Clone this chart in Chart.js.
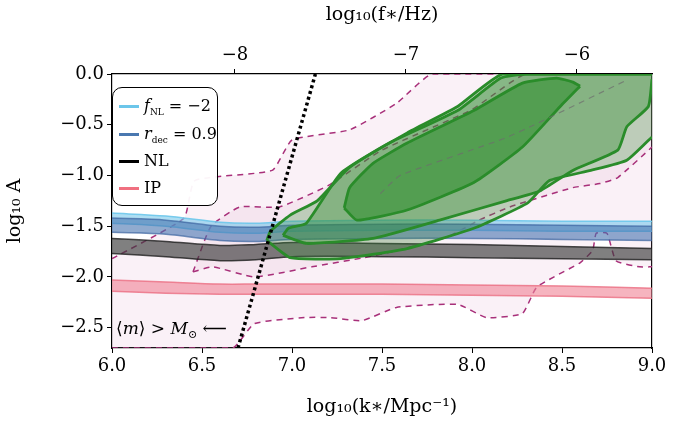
<!DOCTYPE html>
<html>
<head>
<meta charset="utf-8">
<script src="https://cdn.jsdelivr.net/npm/chart.js@4"></script>
<style>
  body { margin: 0; background: #fff; }
  #wrap { position: relative; width: 674px; height: 422px; }
  canvas { position: absolute; left: 0; top: 0; }
  .legend { position: absolute; left: 112px; top: 87px; width: 104px; height: 117px;
    border: 1.6px solid #000; border-radius: 10px; background: rgba(255,255,255,0.95);
    font-family: "DejaVu Serif", "Liberation Serif", serif; font-size: 16px; }
  .legend div { position: absolute; left: 6px; height: 20px; line-height: 20px; }
  .legend span.sw { display: inline-block; width: 20px; height: 3px; vertical-align: middle; margin-right: 5px; }
  .note { position: absolute; left: 116px; top: 318px; font-family: "DejaVu Serif", serif; font-size: 17px; }
</style>
</head>
<body>
<div id="wrap">
<canvas id="c" width="674" height="422"></canvas>
<div class="legend">
  <div style="top:8px"><span class="sw" style="background:#6cc6ea"></span><i>f</i><sub style="font-size:9px">NL</sub> = −2</div>
  <div style="top:36px"><span class="sw" style="background:#4a78b0"></span><i>r</i><sub style="font-size:9px">dec</sub> = 0.9</div>
  <div style="top:63px"><span class="sw" style="background:#000"></span>NL</div>
  <div style="top:90px"><span class="sw" style="background:#f07080"></span>IP</div>
</div>
<div class="note">⟨<i>m</i>⟩ &gt; <i>M</i><sub style="font-size:11px">⊙</sub> ⟵</div>
</div>
<script>
// axis ticks
const xTicks = [6.0, 6.5, 7.0, 7.5, 8.0, 8.5, 9.0];
const yTicks = [0.0, -0.5, -1.0, -1.5, -2.0, -2.5];
const fTicks = [-8, -7, -6];

// PBH-like shaded regions (dashed purple outlines)
const pinkOuterUp = [[6.0,-1.82],[6.4,-1.42],[6.46,-1.05],[6.89,-0.95],[7.0,-0.65],[7.32,-0.55],[7.58,-0.29],[7.78,0.0],[9.0,0.0]];
const pinkOuterLo = [[6.0,-2.7],[6.67,-2.7],[6.79,-2.46],[7.07,-2.40],[7.21,-2.40],[7.39,-2.43],[7.58,-2.30],[7.92,-2.27],[8.08,-2.40],[8.28,-2.36],[8.36,-2.10],[8.6,-1.86],[8.67,-1.74],[8.69,-1.57],[8.75,-1.57],[8.8,-1.84],[8.93,-1.9],[9.0,-1.9]];
const pinkInnerUp = [[6.45,-1.95],[6.55,-1.5],[6.71,-1.31],[6.93,-1.31],[7.2,-1.1],[7.5,-0.75],[8.0,-0.35],[8.3,0.0],[9.0,0.0]];
const pinkInnerLo = [[6.45,-1.95],[6.56,-1.9],[6.79,-2.0],[7.11,-1.9],[7.4,-1.81],[7.58,-1.74],[7.86,-1.61],[8.04,-1.44],[8.21,-1.31],[8.56,-1.12],[8.71,-1.08],[8.81,-1.02],[9.0,-0.72]];

// model bands: lower / upper edges at bandX
const bandX = [6.0, 6.3, 6.6, 6.8, 7.0, 7.5, 8.0, 8.5, 9.0];
const fnlLo = [-1.47,-1.50,-1.56,-1.57,-1.55,-1.54,-1.54,-1.55,-1.55];
const fnlUp = [-1.37,-1.40,-1.46,-1.47,-1.45,-1.44,-1.44,-1.45,-1.45];
const rdecLo = [-1.56,-1.58,-1.64,-1.65,-1.63,-1.62,-1.62,-1.63,-1.64];
const rdecUp = [-1.42,-1.44,-1.50,-1.51,-1.49,-1.48,-1.48,-1.49,-1.50];
const nlLo = [-1.77,-1.80,-1.84,-1.83,-1.80,-1.80,-1.81,-1.82,-1.83];
const nlUp = [-1.62,-1.65,-1.69,-1.68,-1.66,-1.67,-1.68,-1.70,-1.72];
const ipLo = [-2.14,-2.16,-2.17,-2.17,-2.17,-2.17,-2.18,-2.19,-2.21];
const ipUp = [-2.03,-2.05,-2.07,-2.07,-2.07,-2.07,-2.08,-2.09,-2.11];

// posterior contours (green)
const c95Up = [[6.86,-1.64],[6.88,-1.55],[6.99,-1.39],[7.14,-1.25],[7.32,-0.92],[7.64,-0.58],[7.92,-0.32],[8.17,0.0],[9.0,0.0]];
const c95Lo = [[6.86,-1.64],[6.99,-1.81],[7.27,-1.82],[7.64,-1.72],[8.01,-1.52],[8.31,-1.27],[8.43,-1.05],[8.66,-0.95],[8.86,-0.85],[9.0,-0.62]];
const c68Up = [[6.95,-1.59],[6.98,-1.52],[7.08,-1.47],[7.27,-0.98],[7.54,-0.68],[7.92,-0.36],[8.16,-0.04],[8.3,0.0],[9.0,0.0]];
const c68Lo = [[6.95,-1.59],[7.08,-1.67],[7.45,-1.62],[7.82,-1.44],[8.19,-1.25],[8.38,-1.15],[8.56,-0.95],[8.81,-0.75],[8.86,-0.52],[8.98,-0.32],[9.0,-0.05]];
const c40Up = [[7.29,-1.32],[7.32,-1.12],[7.45,-0.88],[7.64,-0.68],[8.01,-0.36],[8.28,-0.09],[8.47,-0.04],[8.56,-0.08],[8.6,-0.12]];
const c40Lo = [[7.29,-1.32],[7.36,-1.44],[7.64,-1.34],[8.01,-1.07],[8.28,-0.72],[8.49,-0.32],[8.6,-0.12]];
const medianLine = [[7.49,-1.18],[7.6,-1.0],[8.2,-0.62],[8.86,-0.06]];

// mass bound line
const massLine = [[6.7,-2.7],[7.13,0.0]];

const pts = a => a.map(p => ({x: p[0], y: p[1]}));
const bandPts = ys => bandX.map((x, i) => ({x: x, y: ys[i]}));

const datasets = [];
function add(data, opts) {
  datasets.push(Object.assign({data: data, pointRadius: 0, borderWidth: 0, fill: false, tension: 0.15}, opts));
  return datasets.length - 1;
}

// pink regions
let i = add(pts(pinkOuterLo), {borderColor: '#a8307a', borderWidth: 1.5, borderDash: [6, 5], order: 20});
add(pts(pinkOuterUp), {borderColor: '#a8307a', borderWidth: 1.5, borderDash: [6, 5], fill: i, backgroundColor: 'rgba(215,150,190,0.13)', order: 20});
i = add(pts(pinkInnerLo), {borderColor: '#a8307a', borderWidth: 1.5, borderDash: [6, 5], order: 19});
add(pts(pinkInnerUp), {borderColor: '#a8307a', borderWidth: 1.5, borderDash: [6, 5], fill: i, backgroundColor: 'rgba(215,150,190,0.12)', order: 19});

// bands
function band(lo, up, edge, face, ord) {
  const j = add(bandPts(lo), {borderColor: edge, borderWidth: 1.5, order: ord, tension: 0.3});
  add(bandPts(up), {borderColor: edge, borderWidth: 1.5, fill: j, backgroundColor: face, order: ord, tension: 0.3});
}
band(ipLo, ipUp, 'rgba(235,110,130,0.8)', 'rgba(240,130,148,0.6)', 15);
band(nlLo, nlUp, 'rgba(30,30,30,0.8)', 'rgba(60,60,60,0.65)', 14);
band(fnlLo, fnlUp, 'rgba(110,200,235,0.9)', 'rgba(120,200,235,0.6)', 13);
band(rdecLo, rdecUp, 'rgba(60,100,160,0.7)', 'rgba(70,115,175,0.6)', 12);

// green contours
const g = '#2a8c2a';
i = add(pts(c95Lo), {borderColor: g, borderWidth: 2.8, order: 8});
add(pts(c95Up), {borderColor: g, borderWidth: 2.8, fill: i, backgroundColor: 'rgba(60,145,60,0.3)', order: 8});
i = add(pts(c68Lo), {borderColor: g, borderWidth: 2.8, order: 7});
add(pts(c68Up), {borderColor: g, borderWidth: 2.8, fill: i, backgroundColor: 'rgba(50,140,50,0.4)', order: 7});
i = add(pts(c40Lo), {borderColor: g, borderWidth: 2.8, order: 6});
add(pts(c40Up), {borderColor: g, borderWidth: 2.8, fill: i, backgroundColor: 'rgba(40,140,40,0.55)', order: 6});
add(pts(medianLine), {borderColor: 'rgba(110,110,110,0.7)', borderWidth: 1.2, borderDash: [6, 5], order: 5});

// dotted line
add(pts(massLine), {borderColor: '#000', borderWidth: 3.5, borderDash: [3, 3], tension: 0, order: 1});

const serif = '"DejaVu Serif", "Liberation Serif", serif';
const fmt = (v, d) => (v < 0 ? '\u2212' : '') + Math.abs(v).toFixed(d);
const setTicks = arr => axis => { axis.ticks = arr.map(v => ({value: v})); };

new Chart(document.getElementById('c'), {
  type: 'line',
  data: {datasets: datasets},
  options: {
    responsive: false,
    animation: false,
    parsing: false,
    plugins: {legend: {display: false}, tooltip: {enabled: false}},
    layout: {padding: {right: 22, left: 0, top: 0, bottom: 0}},
    scales: {
      x: {
        type: 'linear', position: 'bottom', min: 6.0, max: 9.0,
        afterBuildTicks: setTicks(xTicks),
        afterFit: s => { s.height = 74; },
        ticks: {font: {family: serif, size: 18}, color: '#000', callback: v => fmt(v, 1), maxRotation: 0},
        grid: {drawOnChartArea: false, color: '#000', tickLength: 5},
        border: {color: '#000', width: 1.2},
        title: {display: true, text: 'log\u2081\u2080(k\u2217/Mpc\u207B\u00B9)', font: {family: serif, size: 19}, color: '#000', padding: {top: 0}}
      },
      xTop: {
        type: 'linear', position: 'top', min: -8.719, max: -5.561,
        afterBuildTicks: setTicks(fTicks),
        afterFit: s => { s.height = 74; },
        ticks: {font: {family: serif, size: 18}, color: '#000', callback: v => fmt(v, 0), maxRotation: 0},
        grid: {drawOnChartArea: false, color: '#000', tickLength: 5},
        border: {color: '#000', width: 1.2},
        title: {display: true, text: 'log\u2081\u2080(f\u2217/Hz)', font: {family: serif, size: 19}, color: '#000', padding: {bottom: 12}}
      },
      y: {
        type: 'linear', position: 'left', min: -2.7, max: 0.0,
        afterBuildTicks: setTicks(yTicks),
        afterFit: s => { s.width = 112; },
        ticks: {font: {family: serif, size: 18}, color: '#000', callback: v => fmt(v, 1)},
        grid: {drawOnChartArea: false, color: '#000', tickLength: 5},
        border: {color: '#000', width: 1.2},
        title: {display: true, text: 'log\u2081\u2080 A', font: {family: serif, size: 19}, color: '#000'}
      },
      yRight: {
        type: 'linear', position: 'right', min: -2.7, max: 0.0,
        afterBuildTicks: setTicks(yTicks),
        afterFit: s => { s.width = 0; },
        ticks: {display: false},
        grid: {drawOnChartArea: false, display: false},
        border: {color: '#000', width: 1.2}
      }
    }
  }
});
</script>
</body>
</html>
